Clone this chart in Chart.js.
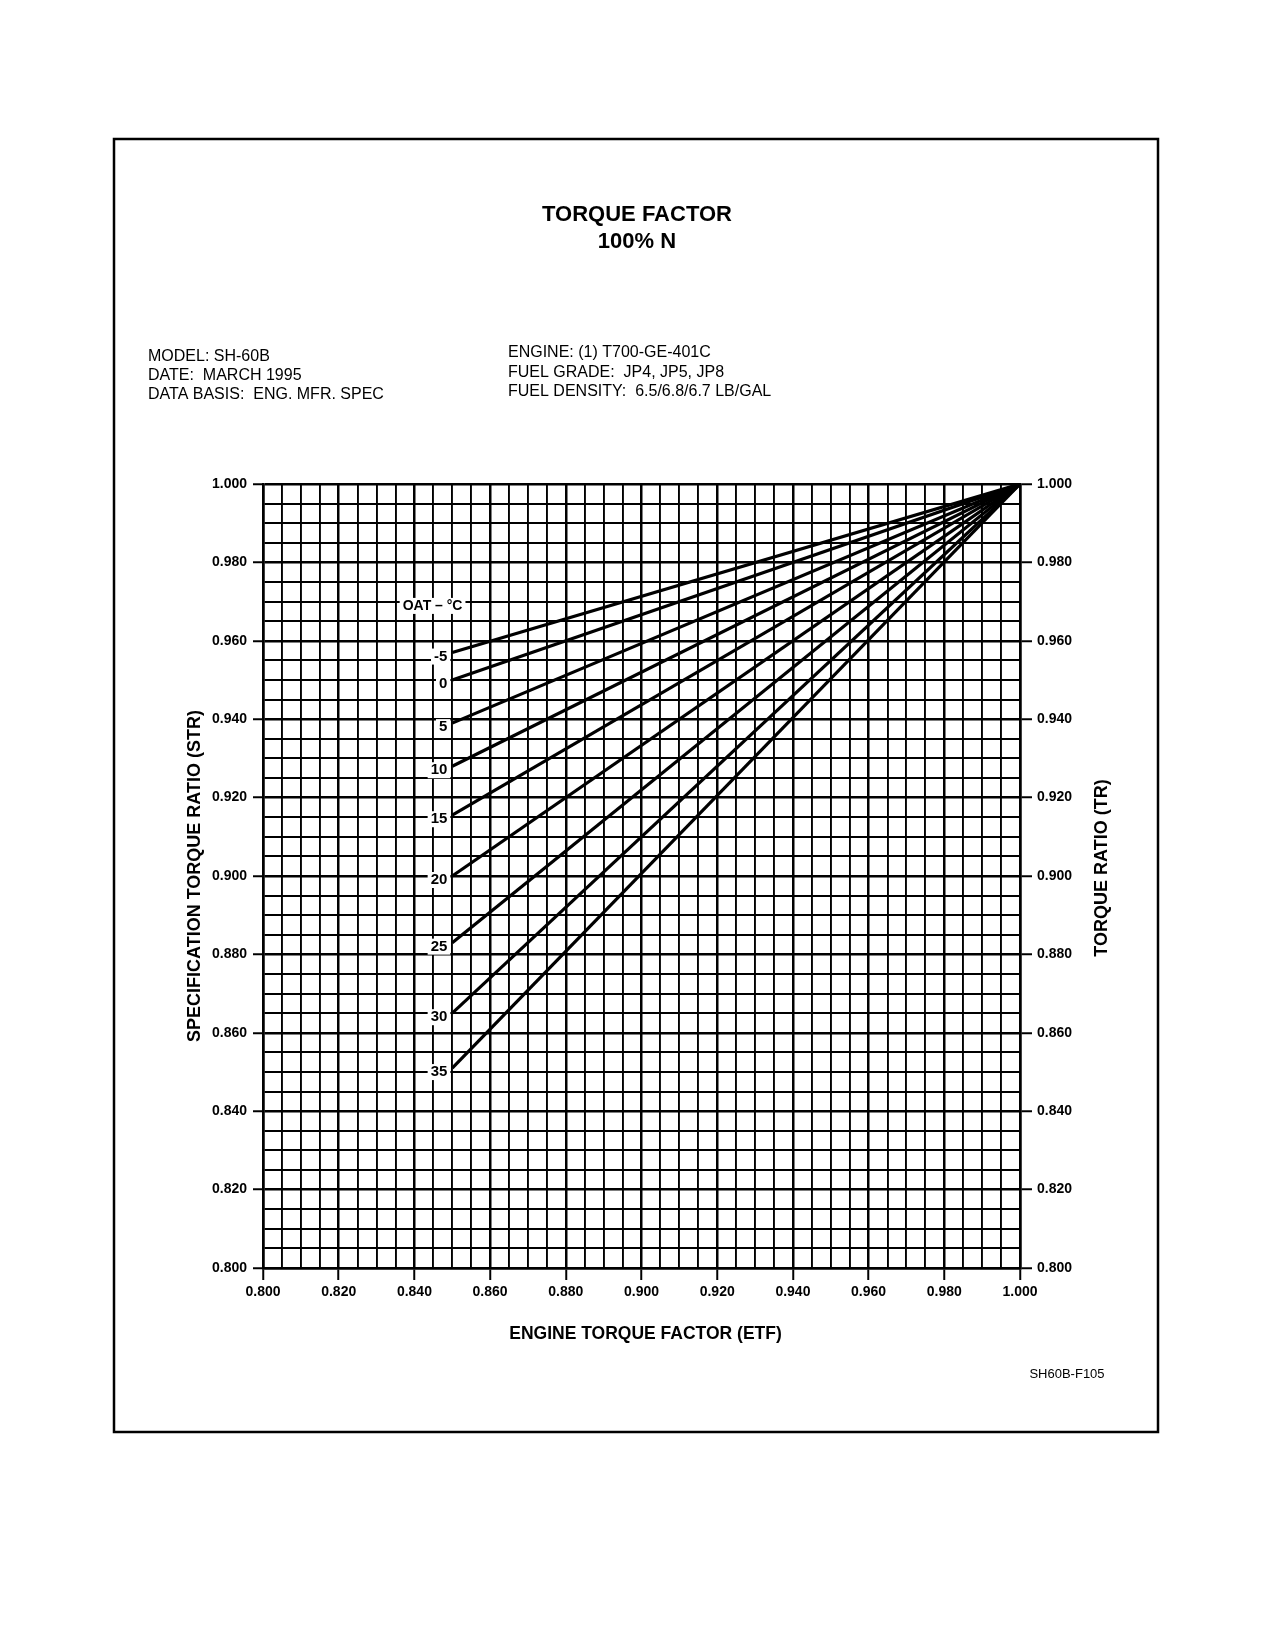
<!DOCTYPE html>
<html>
<head>
<meta charset="utf-8">
<script src="https://cdn.jsdelivr.net/npm/chart.js@4.4.0/dist/chart.umd.min.js"></script>
<style>
  html, body { margin: 0; background: #fff; }
  canvas { display: block; }
</style>
</head>
<body>
<canvas id="torque-chart" width="1275" height="1650"></canvas>
<script>
// OAT curves, each a straight line from ETF 0.850 up to the common point (1.000, 1.000)
const oatLabels = ["-5", "0", "5", "10", "15", "20", "25", "30", "35"];
const strAtStart = [0.957, 0.950, 0.939, 0.928, 0.9155, 0.900, 0.883, 0.865, 0.851];
const etfStart = 0.850;
const etfEnd = 1.000;
const strEnd = 1.000;

// labelled ticks (grid is every 0.005 in between)
const majorTicks = ["0.800", "0.820", "0.840", "0.860", "0.880", "0.900",
  "0.920", "0.940", "0.960", "0.980", "1.000"];

const headerLeft = ["MODEL: SH-60B", "DATE:  MARCH 1995", "DATA BASIS:  ENG. MFR. SPEC"];
const headerRight = ["ENGINE: (1) T700-GE-401C", "FUEL GRADE:  JP4, JP5, JP8", "FUEL DENSITY:  6.5/6.8/6.7 LB/GAL"];

const FONT = "'Liberation Sans', Arial, Helvetica, sans-serif";
const el = { canvas: document.getElementById("torque-chart") };

const isMajor = (v) => majorTicks.includes(Number(v).toFixed(3));

function gridTicks() {
  const out = [];
  for (let i = 0; i <= 40; i++) out.push({ value: +(0.8 + i * 0.005).toFixed(3) });
  return out;
}

function gridOptions(onChart, tickLength) {
  return {
    drawOnChartArea: onChart,
    color: "#000",
    lineWidth: (ctx) => (ctx.tick && isMajor(ctx.tick.value) ? 2.5 : 1.9),
    tickColor: (ctx) => (ctx.tick && isMajor(ctx.tick.value) ? "#000" : "rgba(0,0,0,0)"),
    tickWidth: 2,
    tickLength,
  };
}

function tickLabel(v) {
  const s = Number(v).toFixed(3);
  return majorTicks.includes(s) ? s : "";
}

function boxedText(ctx, text, x, y, align) {
  const w = ctx.measureText(text).width;
  const left = align === "right" ? x - w : align === "center" ? x - w / 2 : x;
  ctx.fillStyle = "#fff";
  ctx.fillRect(left - 3, y - 8, w + 6, 16);
  ctx.fillStyle = "#000";
  ctx.textAlign = align;
  ctx.textBaseline = "middle";
  ctx.fillText(text, x, y);
}

const annotations = {
  id: "annotations",
  afterDatasetsDraw(chart) {
    const { ctx, scales: { x, y } } = chart;
    ctx.save();
    ctx.font = `bold 14px ${FONT}`;
    boxedText(ctx, "OAT – °C", x.getPixelForValue(0.8448), y.getPixelForValue(0.9689), "center");
    ctx.font = `bold 15px ${FONT}`;
    oatLabels.forEach((t, i) => {
      boxedText(ctx, t, x.getPixelForValue(0.8487), y.getPixelForValue(strAtStart[i]) + 4, "right");
    });
    ctx.restore();
  },
  afterDraw(chart) {
    const { ctx, scales: { x, y } } = chart;
    ctx.save();
    // page frame
    ctx.strokeStyle = "#000";
    ctx.lineWidth = 2.5;
    ctx.strokeRect(114, 139, 1044, 1293);

    ctx.fillStyle = "#000";
    ctx.textAlign = "center";
    ctx.textBaseline = "middle";
    ctx.font = `bold 22px ${FONT}`;
    ctx.fillText("TORQUE FACTOR", 637, 215);
    ctx.fillText("100% N", 637, 242);

    ctx.textAlign = "left";
    ctx.font = `16px ${FONT}`;
    headerLeft.forEach((t, i) => ctx.fillText(t, 148, 357 + i * 19));
    headerRight.forEach((t, i) => ctx.fillText(t, 508, 353 + i * 19.5));

    // axis titles
    ctx.textAlign = "center";
    ctx.font = `bold 17.5px ${FONT}`;
    ctx.fillText("ENGINE TORQUE FACTOR (ETF)", (x.left + x.right) / 2 + 4, 1334);
    ctx.font = `bold 18px ${FONT}`;
    ctx.save();
    ctx.translate(195, (y.top + y.bottom) / 2);
    ctx.rotate(-Math.PI / 2);
    ctx.fillText("SPECIFICATION TORQUE RATIO (STR)", 0, 0);
    ctx.restore();
    ctx.save();
    ctx.translate(1102, 868);
    ctx.rotate(-Math.PI / 2);
    ctx.fillText("TORQUE RATIO (TR)", 0, 0);
    ctx.restore();

    ctx.font = `13px ${FONT}`;
    ctx.fillText("SH60B-F105", 1067, 1374);
    ctx.restore();
  },
};

const datasets = oatLabels.map((oat, i) => ({
  label: `${oat} °C`,
  data: [{ x: etfStart, y: strAtStart[i] }, { x: etfEnd, y: strEnd }],
  showLine: true,
  borderColor: "#000",
  borderWidth: 3.2,
  pointRadius: 0,
  fill: false,
}));

Chart.defaults.font.family = FONT;
Chart.defaults.color = "#000";

new Chart(el.canvas, {
  type: "scatter",
  data: { datasets },
  plugins: [annotations],
  options: {
    responsive: false,
    animation: false,
    devicePixelRatio: 1,
    layout: { padding: { top: 484, left: 0, right: 0, bottom: 0 } },
    plugins: { legend: { display: false }, tooltip: { enabled: false } },
    scales: {
      x: {
        type: "linear",
        min: 0.8,
        max: 1.0,
        afterBuildTicks: (s) => { s.ticks = gridTicks(); },
        afterFit: (s) => { s.height = 1650 - 1268; },
        ticks: { callback: tickLabel, autoSkip: false, maxRotation: 0, padding: 4, font: { size: 14, weight: "bold" } },
        grid: gridOptions(true, 12),
        border: { color: "#000", width: 2.5 },
      },
      y: {
        type: "linear",
        position: "left",
        min: 0.8,
        max: 1.0,
        afterBuildTicks: (s) => { s.ticks = gridTicks(); },
        afterFit: (s) => { s.width = 263; },
        ticks: { callback: tickLabel, autoSkip: false, padding: 6, font: { size: 14, weight: "bold" } },
        grid: gridOptions(true, 10),
        border: { color: "#000", width: 2.5 },
      },
      y2: {
        type: "linear",
        position: "right",
        min: 0.8,
        max: 1.0,
        afterBuildTicks: (s) => { s.ticks = gridTicks(); },
        afterFit: (s) => { s.width = 1275 - 1020; },
        ticks: { callback: tickLabel, autoSkip: false, padding: 5, font: { size: 14, weight: "bold" } },
        grid: gridOptions(false, 12),
        border: { color: "#000", width: 2.5 },
      },
    },
  },
});
</script>
</body>
</html>
